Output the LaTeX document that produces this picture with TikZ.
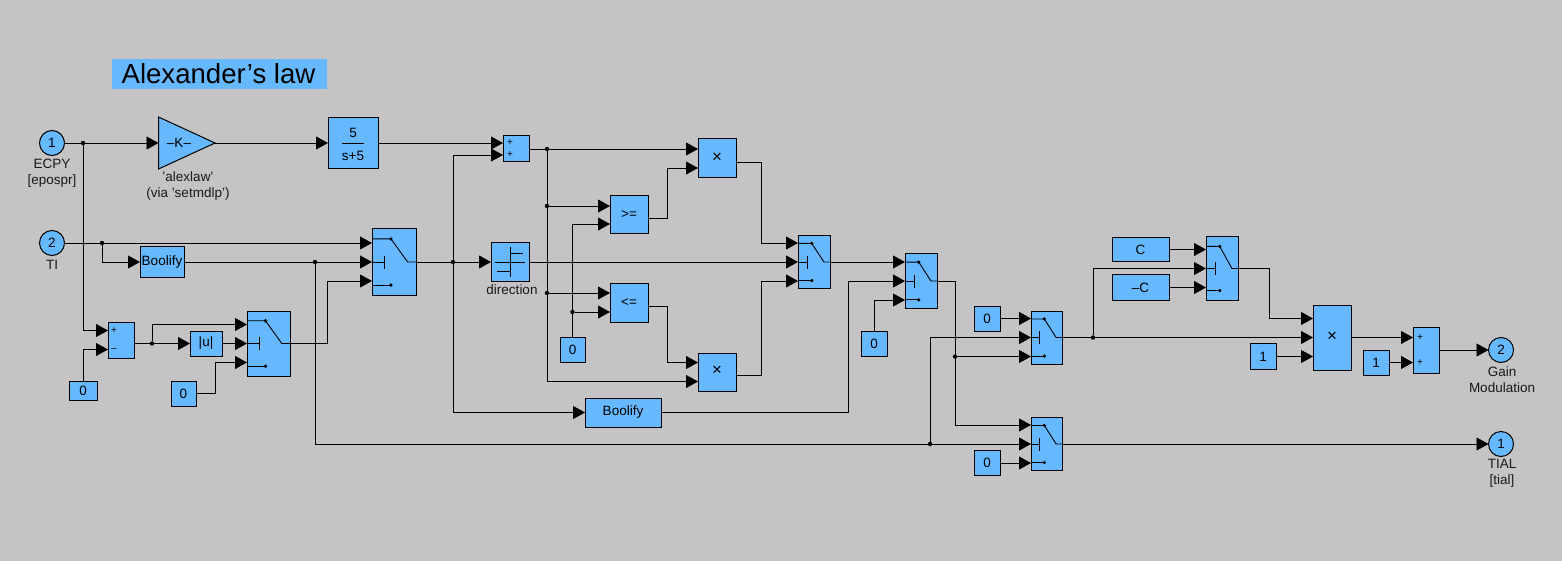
\documentclass[tikz,border=0pt]{standalone}
\usepackage{fontspec}
\setmainfont{Liberation Sans}
\usepackage{tikz}
\usetikzlibrary{calc,arrows.meta}
\definecolor{sheetgray}{RGB}{196,196,196}
\definecolor{blockblue}{RGB}{102,184,255}
\tikzset{
	txt/.style={font=\fontsize{13.5}{16}\selectfont, inner sep=0pt, outer sep=0pt},
	blk/.style={txt, draw=black, fill=blockblue, line width=1pt, rectangle},
	port/.style={txt, draw=black, fill=blockblue, line width=1pt, circle, minimum size=25pt},
	lab/.style={txt, align=center, text=black!90},
	sign/.style={txt, font=\fontsize{10}{10}\selectfont},
	times/.style={txt, font=\fontsize{17}{17}\selectfont},
	wire/.style={line width=0.9pt, draw=black},
	arr/.style={wire, -{Triangle[length=12pt,width=13pt]}},
	icon/.style={line width=0.9pt, draw=black},
	jdot/.style={circle, fill=black, inner sep=0pt, minimum size=4.4pt},
	pin/.style={circle, fill=black, inner sep=0pt, minimum size=3pt}
}
\def\inports#1#2{
	\coordinate (#1a) at ($(#1.west)+(0,-#2)$);
	\coordinate (#1b) at ($(#1.west)+(0,#2)$);
}
\def\swicon#1#2#3{
	\coordinate (#1t) at ($(#1.west)+(0.43*#2,-0.35*#3)$);
	\coordinate (#1u) at ($(#1.west)+(0.43*#2,0.35*#3)$);
	\draw[icon] ($(#1.west)+(0,-0.35*#3)$) -- (#1t) -- ($(#1.west)+(0.81*#2,0)$) -- (#1.east);
	\draw[icon] (#1.west) -- ++(0.28*#2,0) ++(0,-6.5) -- ++(0,13);
	\draw[icon] ($(#1.west)+(0,0.35*#3)$) -- (#1u);
	\fill (#1t) circle (1.8);
	\fill (#1u) circle (1.8);
}

\begin{document}
\begin{tikzpicture}[x=1pt, y=-1pt]
			%%%%% START %%%%%
			\fill[sheetgray] (0,0) rectangle (1562,561);
			
			\node[txt, fill=blockblue, minimum width=215pt, minimum height=30pt, font=\fontsize{27.6}{30}\selectfont] (title) at (219.5,74) {\hspace{-2pt}Alexander’s law};
			
			% inports, gain, lag
			\node[port] (inecpy) at (52,143) {1};
			\node[lab] (labecpy) at (52,173) {ECPY\\{[}epospr{]}};
			\node[port] (inti) at (52,243) {2};
			\node[lab] (labti) at (52,265) {TI};
			
			\draw[blk] (158.5,117) -- (215,143) -- (158.5,169) -- cycle;
			\coordinate (gainin) at (158.5,143);
			\coordinate (gainout) at (215,143);
			\node[txt] (gaink) at (179,143) {–K–};
			\node[lab] (labgain) at (188,186) {'alexlaw'\\(via 'setmdlp')};
			
			\node[blk, minimum width=50.5pt, minimum height=51pt] (lag) at (353.25,143) {};
			\node[txt] (lagnum) at (353,133) {5};
			\node[txt] (lagden) at (353,156) {s+5};
			\draw[icon] (342,143) -- (364,143);
			
			% left group
			\node[blk, minimum width=44pt, minimum height=30pt] (boolone) at (162,262) {Boolify};
			\node[blk, minimum width=26pt, minimum height=36pt] (sumone) at (121,340) {};
			\node[sign] (sumoneplus) at (114,331) {+};
			\node[sign] (sumoneminus) at (114,350) {–};
			\node[blk, minimum width=28.5pt, minimum height=19pt] (zeroone) at (83.25,390.5) {0};
			\node[blk, minimum width=32pt, minimum height=25pt] (absu) at (206,343.5) {|u|};
			\node[blk, minimum width=25pt, minimum height=25pt] (zerotwo) at (183.5,393.5) {0};
			\node[blk, minimum width=43pt, minimum height=65pt] (swtwo) at (268.5,343.5) {};
			\node[blk, minimum width=44pt, minimum height=66pt] (swone) at (394,262) {};
			\inports{sumone}{9.5}
			\inports{swone}{19}
			\inports{swtwo}{19}
			\swicon{swone}{44}{66}
			\swicon{swtwo}{43}{65}
			\coordinate (sumoneo) at ($(sumone.east)+(0,3.5)$);
			
			% middle group
			\node[blk, minimum width=26pt, minimum height=26pt] (sumtwo) at (516,149) {};
			\node[sign] (sumtwoup) at (510,143) {+};
			\node[sign] (sumtwodn) at (510,155) {+};
			\node[blk, minimum width=38pt, minimum height=38pt] (dirbox) at (510,262) {};
			\draw[icon] ($(dirbox)+(-15,0)$) -- ($(dirbox)+(15,0)$);
			\draw[icon] ($(dirbox)+(0,-15)$) -- ($(dirbox)+(0,15)$);
			\draw[icon] ($(dirbox)+(0,-9)$) -- ($(dirbox)+(13,-9)$);
			\draw[icon] ($(dirbox)+(-13,9)$) -- ($(dirbox)+(0,9)$);
			\node[lab] (labdir) at (512,290) {direction};
			
			\node[blk, minimum width=38pt, minimum height=38pt] (geq) at (629,215) {>=};
			\node[blk, minimum width=38pt, minimum height=39pt] (leq) at (629,302.5) {<=};
			\node[blk, minimum width=25pt, minimum height=25pt] (zerothree) at (572.5,349.5) {0};
			\node[blk, minimum width=38pt, minimum height=39pt] (prodone) at (717,158.5) {};
			\node[times] (prodonex) at (717,158) {×};
			\node[blk, minimum width=38pt, minimum height=38pt] (prodtwo) at (717,372) {};
			\node[times] (prodtwox) at (717,371) {×};
			\node[blk, minimum width=76pt, minimum height=29pt] (boolb) at (623,412.5) {Boolify};
			\node[blk, minimum width=32pt, minimum height=53pt] (swthree) at (814,262) {};
			\node[blk, minimum width=32pt, minimum height=54pt] (swfour) at (921,281) {};
			\node[blk, minimum width=26pt, minimum height=25pt] (zerofour) at (874,343.5) {0};
			\inports{geq}{9}
			\inports{leq}{9.5}
			\inports{sumtwo}{6}
			\inports{prodone}{9.5}
			\inports{prodtwo}{9.5}
			\inports{swthree}{19}
			\inports{swfour}{19}
			\swicon{swthree}{32}{53}
			\swicon{swfour}{32}{54}
			\coordinate (prodoneo) at ($(prodone.east)+(0,3.5)$);
			\coordinate (prodtwoo) at ($(prodtwo.east)+(0,3)$);
			\coordinate (geqo) at ($(geq.east)+(0,3)$);
			\coordinate (leqo) at ($(leq.east)+(0,3.5)$);
			
			% right group
			\node[blk, minimum width=26pt, minimum height=25pt] (zerofive) at (987,318.5) {0};
			\node[blk, minimum width=26pt, minimum height=25pt] (zerosix) at (987,463) {0};
			\node[blk, minimum width=31pt, minimum height=53pt] (swfive) at (1046.5,337.5) {};
			\node[blk, minimum width=31pt, minimum height=53pt] (swsix) at (1046.5,444) {};
			\node[blk, minimum width=57pt, minimum height=23pt] (cpos) at (1140.5,249.5) {C};
			\node[blk, minimum width=57pt, minimum height=26pt] (cneg) at (1140.5,287.5) {–C};
			\node[blk, minimum width=32pt, minimum height=63pt] (swseven) at (1222,268.5) {};
			\node[blk, minimum width=38pt, minimum height=65pt] (prodthree) at (1332,337.5) {};
			\node[times] (prodthreex) at (1332,337) {×};
			\node[blk, minimum width=26pt, minimum height=26pt] (oneone) at (1263,356.5) {1};
			\node[blk, minimum width=26pt, minimum height=25pt] (onetwo) at (1376,362.5) {1};
			\node[blk, minimum width=26pt, minimum height=46pt] (sumthree) at (1426,350) {};
			\node[sign] (sumthreeup) at (1420,337.5) {+};
			\node[sign] (sumthreedn) at (1420,362.5) {+};
			\node[port] (outgain) at (1501,350) {2};
			\node[lab] (labgainmod) at (1502,380) {Gain\\Modulation};
			\node[port] (outtial) at (1501,444) {1};
			\node[lab] (labtial) at (1502,473.5) {TIAL\\{[}tial{]}};
			\inports{swfive}{19}
			\inports{swsix}{19}
			\inports{swseven}{19}
			\inports{prodthree}{19}
			\inports{sumthree}{12.5}
			\swicon{swfive}{31}{53}
			\swicon{swsix}{31}{53}
			\swicon{swseven}{32}{63}
			
			% junctions
			\node[jdot] (jecpy) at (83,143) {};
			\node[jdot] (jti) at (102,243) {};
			\node[jdot] (jbool) at (315,262) {};
			\node[jdot] (jsumone) at (152,343.5) {};
			\node[jdot] (jdir) at (453,262) {};
			\node[jdot] (jsumtwo) at (547,149) {};
			\node[jdot] (jgeq) at (547,206) {};
			\node[jdot] (jleq) at (547,293) {};
			\node[jdot] (jzero) at (572.5,312) {};
			\node[jdot] (jfour) at (955,356.5) {};
			\node[jdot] (jmain) at (930,444) {};
			\node[jdot] (jfive) at (1093,337.5) {};
			
			% connectors
			\draw[arr] (inecpy) -- (gainin);
			\draw[arr] (gainout) -- (lag.west);
			\draw[arr] (lag.east) -- (sumtwoa);
			\draw[arr] (jecpy) |- (sumonea);
			\draw[arr] (zeroone.north) |- (sumoneb);
			\draw[wire] (sumoneo) -- (jsumone);
			\draw[arr] (jsumone) -- (absu.west);
			\draw[arr] (jsumone) |- (swtwoa);
			\draw[arr] (absu.east) -- (swtwo.west);
			\draw[arr] (zerotwo.east) -- ++(19,0) |- (swtwob);
			\draw[arr] (inti) -- (swonea);
			\draw[arr] (jti) |- (boolone.west);
			\draw[arr] (boolone.east) -- (swone.west);
			\draw[arr] (swtwo.east) -- ++(37.5,0) |- (swoneb);
			
			\draw[arr] (swone.east) -- (dirbox.west);
			\draw[arr] (jdir) |- (sumtwob);
			\draw[arr] (jdir) |- (boolb.west);
			\draw[arr] (sumtwo.east) -- (prodonea);
			\draw[arr] (jsumtwo) |- (prodtwob);
			\draw[arr] (jgeq) -- (geqa);
			\draw[arr] (jleq) -- (leqa);
			\draw[arr] (zerothree.north) |- (geqb);
			\draw[arr] (jzero) -- (leqb);
			\draw[arr] (geqo) -- ++(19,0) |- (prodoneb);
			\draw[arr] (leqo) -- ++(19,0) |- (prodtwoa);
			\draw[arr] (dirbox.east) -- (swthree.west);
			\draw[arr] (prodoneo) -- ++(25,0) |- (swthreea);
			\draw[arr] (prodtwoo) -- ++(25,0) |- (swthreeb);
			
			\draw[arr] (swthree.east) -- (swfoura);
			\draw[arr] (boolb.east) -- ++(187,0) |- (swfour.west);
			\draw[arr] (zerofour.north) |- (swfourb);
			\draw[arr] (swfour.east) -- ++(18,0) |- (swsixa);
			\draw[arr] (jfour) -- (swfiveb);
			\draw[arr] (jbool) |- (swsix.west);
			\draw[arr] (jmain) |- (swfive.west);
			\draw[arr] (zerofive.east) -- (swfivea);
			\draw[arr] (zerosix.east) -- (swsixb);
			\draw[arr] (swsix.east) -- (outtial);
			
			\draw[arr] (swfive.east) -- (prodthree.west);
			\draw[arr] (jfive) |- (swseven.west);
			\draw[arr] (cpos.east) -- (swsevena);
			\draw[arr] (cneg.east) -- (swsevenb);
			\draw[arr] (swseven.east) -- ++(31,0) |- (prodthreea);
			\draw[arr] (oneone.east) -- (prodthreeb);
			\draw[arr] (prodthree.east) -- (sumthreea);
			\draw[arr] (onetwo.east) -- (sumthreeb);
			\draw[arr] (sumthree.east) -- (outgain);
			%%%%% END %%%%%
		\end{tikzpicture}
\end{document}
